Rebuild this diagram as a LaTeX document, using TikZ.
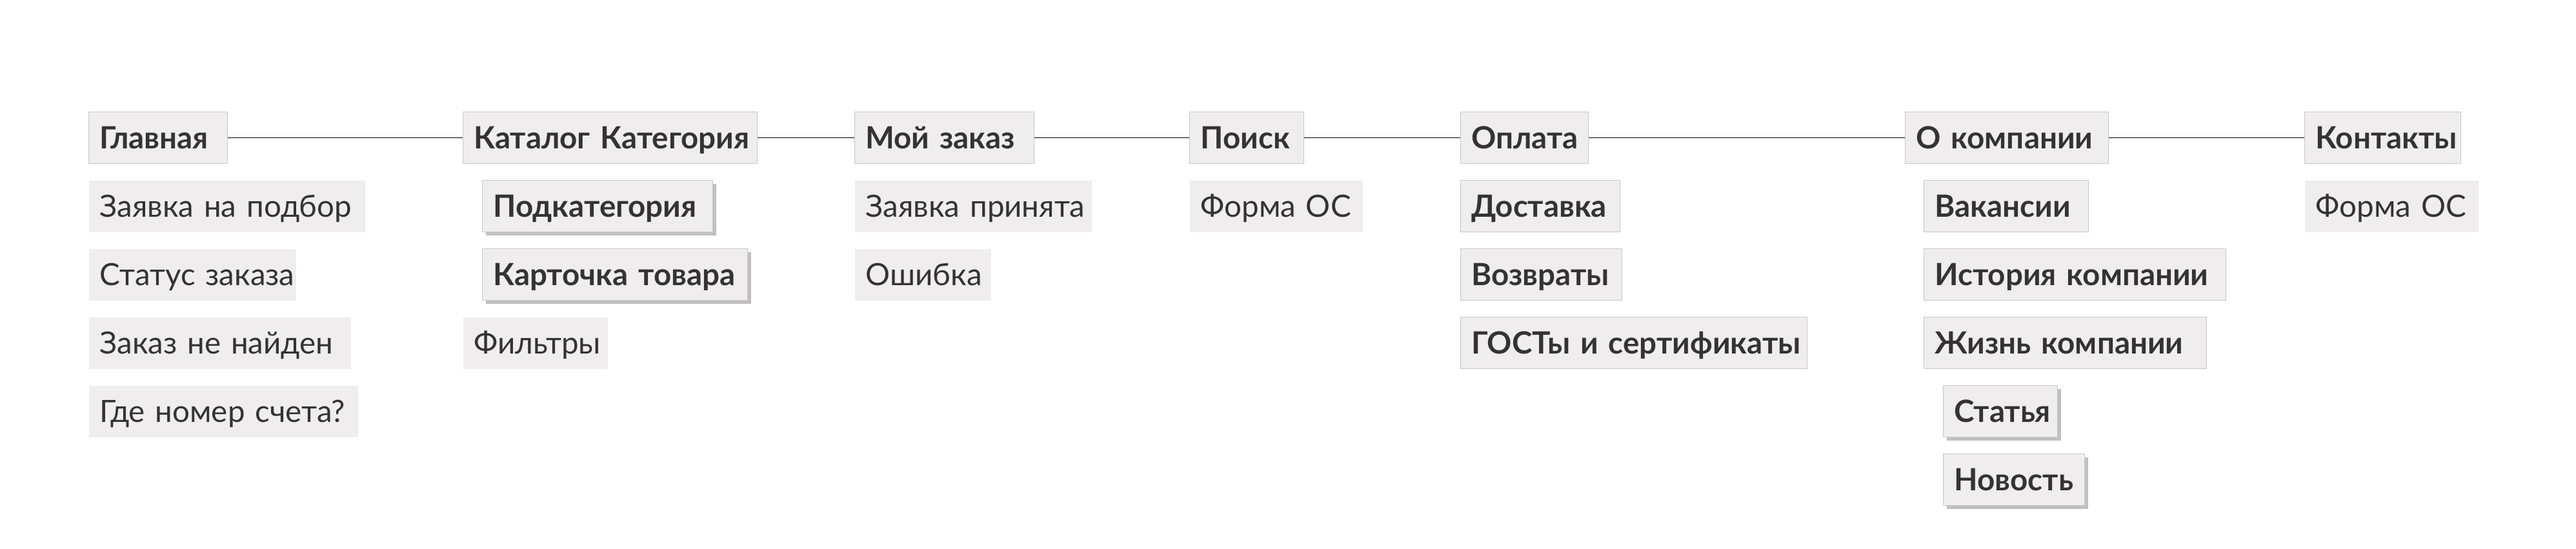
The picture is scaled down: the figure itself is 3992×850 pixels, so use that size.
\documentclass[tikz,border=0pt]{standalone}
\usepackage{fontspec}
\setmainfont{Lato}
\usepackage{tikz}
\usetikzlibrary{positioning, shadows}
\definecolor{boxfill}{HTML}{EFEDEE}
\definecolor{boxline}{HTML}{C8C8C8}
\definecolor{ink}{HTML}{333333}
\definecolor{shadowgray}{HTML}{C0C0C0}
\tikzset{
    plainbox/.style = {anchor=north west, fill=boxfill, text=ink, inner xsep=0.17cm, inner ysep=0pt,
                       text height=0.57cm, text depth=0.23cm, align=left,
                       font=\fontsize{13.5pt}{15pt}\selectfont},
    pagebox/.style  = {plainbox, draw=boxline, line width=0.01cm, font=\fontsize{13.5pt}{15pt}\selectfont\bfseries},
    shadowbox/.style = {pagebox, drop shadow={shadow xshift=0.05cm, shadow yshift=-0.05cm, fill=shadowgray, opacity=1}},
    link/.style = {draw=black, line width=0.013cm}
}

\begin{document}
\begin{tikzpicture}[x=0.01cm, y=-0.01cm]
            \useasboundingbox (0,0) rectangle (3992,850);

            \node [pagebox, text width=1.81cm]   (glav)     at ( 137, 173) {Главная};
            \node [plainbox, text width=3.94cm]  (podbor)   at ( 137, 279) {Заявка~на~подбор};
            \node [plainbox, text width=2.87cm]  (status)   at ( 137, 385) {Статус~заказа};
            \node [plainbox, text width=3.72cm]  (nenaiden) at ( 137, 491) {Заказ~не~найден};
            \node [plainbox, text width=3.83cm]  (nomer)    at ( 137, 597) {Где~номер~счета?};

            \node [pagebox, text width=4.22cm]   (katalog)  at ( 717, 173) {Каталог~Категория};
            \node [shadowbox, text width=3.23cm] (podkat)   at ( 747, 279) {Подкатегория};
            \node [shadowbox, text width=3.77cm] (kartochka) at ( 747, 385) {Карточка~товара};
            \node [plainbox, text width=1.90cm]  (filtry)   at ( 717, 491) {Фильтры};

            \node [pagebox, text width=2.44cm]   (moy)      at (1324, 173) {Мой~заказ};
            \node [plainbox, text width=3.33cm]  (prinyata) at (1324, 279) {Заявка~принята};
            \node [plainbox, text width=1.77cm]  (oshibka)  at (1324, 385) {Ошибка};

            \node [pagebox, text width=1.43cm]   (poisk)    at (1843, 173) {Поиск};
            \node [plainbox, text width=2.34cm]  (formaA)   at (1843, 279) {Форма~ОС};

            \node [pagebox, text width=1.64cm]   (oplata)   at (2263, 173) {Оплата};
            \node [pagebox, text width=2.13cm]   (dostavka) at (2263, 279) {Доставка};
            \node [pagebox, text width=2.16cm]   (vozvraty) at (2263, 385) {Возвраты};
            \node [pagebox, text width=5.03cm]   (gost)     at (2263, 491) {ГОСТы~и~сертификаты};

            \node [pagebox, text width=2.81cm]   (okomp)    at (2952, 173) {О~компании};
            \node [pagebox, text width=2.21cm]   (vakansii) at (2981, 279) {Вакансии};
            \node [pagebox, text width=4.34cm]   (istoriya) at (2981, 385) {История~компании};
            \node [pagebox, text width=4.04cm]   (zhizn)    at (2981, 491) {Жизнь~компании};
            \node [shadowbox, text width=1.43cm] (statya)   at (3011, 597) {Статья};
            \node [shadowbox, text width=1.85cm] (novost)   at (3011, 703) {Новость};

            \node [pagebox, text width=2.08cm]   (kontakty) at (3571, 173) {Контакты};
            \node [plainbox, text width=2.35cm]  (formaB)   at (3571, 279) {Форма~ОС};

            \draw [link] (glav) -- (katalog) -- (moy) -- (poisk) -- (oplata) -- (okomp) -- (kontakty);
        \end{tikzpicture}
\end{document}
